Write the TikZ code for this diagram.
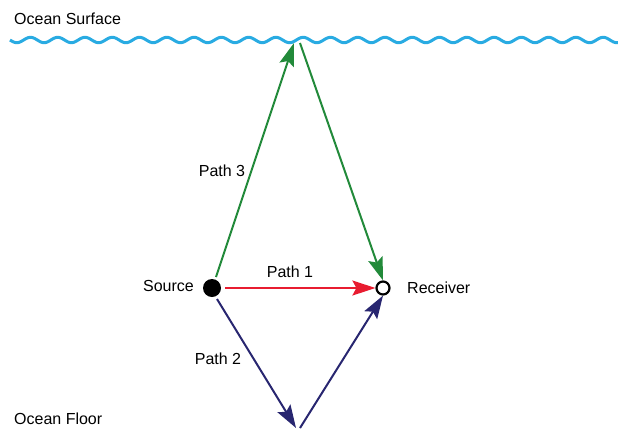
\documentclass[tikz,border=0pt]{standalone}
\usepackage{fontspec}
\setmainfont{Liberation Sans}
\usetikzlibrary{arrows.meta}
\definecolor{wave}{RGB}{41,171,226}
\definecolor{pgreen}{RGB}{34,138,58}
\definecolor{pred}{RGB}{232,28,48}
\definecolor{pblue}{RGB}{40,38,112}
\tikzset{
  lbl/.style={font=\fontsize{16}{18}\selectfont, inner sep=1pt},
  ray/.style={line width=2pt, -{Stealth[length=23pt,width=15pt,inset=4pt]}},
}
\begin{document}
\begin{tikzpicture}[x=1pt,y=-1pt]
\useasboundingbox (0,0) rectangle (618,432);
% sea surface
\draw[wave, line width=3pt, domain=10:618, samples=400, smooth]
  plot (\x, {40 + 2.7*sin(13.2*(\x-10))});
\node[lbl, anchor=base west] (surf) at (13,24) {Ocean Surface};
\node[lbl, anchor=base west] (floor) at (13,424) {Ocean Floor};
% source and receiver
\node[circle, fill=black, minimum size=18pt, inner sep=0pt] (src) at (212,288) {};
\node[circle, draw=black, line width=2.2pt, minimum size=13pt, inner sep=0pt] (rcv) at (383,288) {};
\node[lbl, anchor=east] (srclbl) at (195,286) {Source};
\node[lbl, anchor=west] (rcvlbl) at (406,288) {Receiver};
% reflection points
\coordinate (up1) at (294,43);
\coordinate (up2) at (300,43);
\coordinate (dn1) at (296,428);
\coordinate (dn2) at (300,428);
% path 1: direct
\draw[ray, pred] (src.east) ++(4,0) -- (rcv.west);
% path 3: surface bounce
\draw[ray, pgreen] (src) ++(4,-11) -- (up1);
\draw[ray, pgreen] (up2) -- (rcv.north);
% path 2: floor bounce
\draw[ray, pblue] (src) ++(5,11) -- (dn1);
\draw[ray, pblue] (dn2) -- (rcv.south);
\node[lbl] (p1) at (290,272) {Path 1};
\node[lbl] (p2) at (218,359) {Path 2};
\node[lbl] (p3) at (222,171) {Path 3};
\end{tikzpicture}
\end{document}
